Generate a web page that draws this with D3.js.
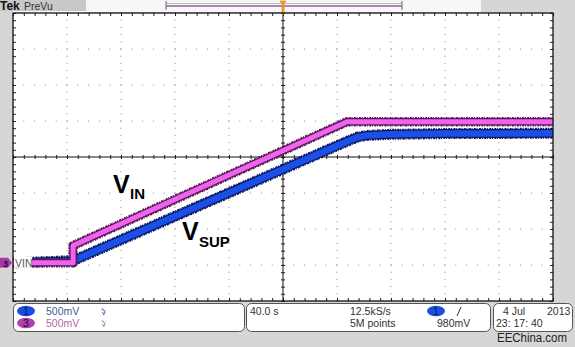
<!DOCTYPE html>
<html><head><meta charset="utf-8">
<script src="https://cdn.jsdelivr.net/npm/d3@7/dist/d3.min.js"></script>
<style>body{margin:0;background:#d6d6d6;} svg{display:block}</style>
</head><body><svg id="c" width="575" height="347"></svg>
<script>
const timeVIN  = [-200, -155.5, -155.5, 47.4, 200];          // s
const voltVIN  = [0, 0, 0.24, 1.96, 1.96];                    // V
const timeVSUP = [-200, -155.5, 49, 55, 62, 80, 120, 200];    // s
const voltVSUP = [0, 0.03, 1.70, 1.745, 1.77, 1.785, 1.795, 1.80];
const xDivisions = d3.range(0, 11);      // 10 horizontal divisions
const yDivisions = d3.range(0, 9);       // 8 vertical divisions
const chanNumbers = ["1", "3"];
const chanScales = ["500mV", "500mV"];
const timeBase = "40.0 s";
const sampleRate = "12.5kS/s";
const recordLength = "5M points";
const trigLevel = "980mV";
const dateText = ["4 Jul", "2013", "23: 17: 40"];
const traceLabels = [{main: "V", sub: "IN"}, {main: "V", sub: "SUP"}];

// ---------- layout ----------
const W = 575, H = 347;
const L = 13, R = 553, T = 13, B = 301;
const secPerDiv = 40, vPerDiv = 0.5, gndDiv = -2.94;
const svg = d3.select("#c");

const x = d3.scaleLinear().domain([-5 * secPerDiv, 5 * secPerDiv]).range([L, R]);
const y = d3.scaleLinear().domain([(-4 - gndDiv) * vPerDiv, (4 - gndDiv) * vPerDiv]).range([B, T]);
const xDiv = d3.scaleLinear().domain([0, 10]).range([L, R]);
const yDiv = d3.scaleLinear().domain([0, 8]).range([B, T]);
const minorX = d3.range(0, 50.5, 1).map(d => d / 5);
const minorY = d3.range(0, 40.5, 1).map(d => d / 5);

// ---------- background panels ----------
svg.append("rect").attr("x", 0).attr("y", 0).attr("width", W).attr("height", H).attr("fill", "#d6d6d6");
svg.append("rect").attr("x", 86).attr("y", 0).attr("width", 395).attr("height", 12).attr("fill", "#f7f7f7");
svg.append("rect").attr("x", 0).attr("y", 0).attr("width", 86).attr("height", 11).attr("fill", "#c8c8c8");
svg.append("rect").attr("x", L).attr("y", 11).attr("width", 73).attr("height", 2).attr("fill", "#f7f7f7");
svg.append("rect").attr("x", L).attr("y", T).attr("width", R - L).attr("height", B - T).attr("fill", "#ffffff");

// top header
svg.append("text").attr("x", 0).attr("y", 10).attr("font-family", "Liberation Sans, Arial, sans-serif")
  .attr("font-weight", "bold").attr("font-size", 12).attr("fill", "#111").text("Tek");
svg.append("text").attr("x", 24).attr("y", 10).attr("font-family", "Liberation Sans, Arial, sans-serif")
  .attr("font-size", 10.5).attr("fill", "#333").text("PreVu");
// record view bar
svg.append("line").attr("x1", 166).attr("x2", 402).attr("y1", 3.5).attr("y2", 3.5).attr("stroke", "#b8c4b8").attr("stroke-width", 1);
svg.append("line").attr("x1", 166).attr("x2", 402).attr("y1", 6).attr("y2", 6).attr("stroke", "#9a5aa6").attr("stroke-width", 1.5);
[166, 402].forEach(px => svg.append("line").attr("x1", px).attr("x2", px).attr("y1", 1).attr("y2", 10).attr("stroke", "#666").attr("stroke-width", 1));

// ---------- grid dots ----------
const grid = svg.append("g");
xDivisions.filter(d => d > 0 && d < 10 && d !== 5).forEach(d => {
  minorY.forEach(m => grid.append("rect").attr("x", xDiv(d) - 0.5).attr("y", yDiv(m) - 0.5)
    .attr("width", 1).attr("height", 1).attr("fill", "#8c8c8c"));
});
yDivisions.filter(d => d > 0 && d < 8 && d !== 4).forEach(d => {
  minorX.forEach(m => grid.append("rect").attr("x", xDiv(m) - 0.5).attr("y", yDiv(d) - 0.5)
    .attr("width", 1).attr("height", 1).attr("fill", "#8c8c8c"));
});

// border ticks via axes
const tickStyle = g => { g.select(".domain").remove(); g.selectAll("line").attr("stroke", "#222"); g.selectAll("text").remove(); };
svg.append("g").attr("transform", `translate(0,${T})`).call(d3.axisBottom(xDiv).tickValues(minorX).tickSize(3).tickFormat("")).call(tickStyle);
svg.append("g").attr("transform", `translate(0,${B})`).call(d3.axisTop(xDiv).tickValues(minorX).tickSize(3).tickFormat("")).call(tickStyle);
svg.append("g").attr("transform", `translate(${L},0)`).call(d3.axisRight(yDiv).tickValues(minorY).tickSize(3).tickFormat("")).call(tickStyle);
svg.append("g").attr("transform", `translate(${R},0)`).call(d3.axisLeft(yDiv).tickValues(minorY).tickSize(3).tickFormat("")).call(tickStyle);
// center crosshair with ticks
svg.append("g").attr("transform", `translate(0,${yDiv(4) + 2})`).call(d3.axisTop(xDiv).tickValues(minorX).tickSize(4).tickFormat("")).call(tickStyle);
svg.append("g").attr("transform", `translate(${xDiv(5) - 2},0)`).call(d3.axisRight(yDiv).tickValues(minorY).tickSize(4).tickFormat("")).call(tickStyle);
svg.append("line").attr("x1", L).attr("x2", R).attr("y1", yDiv(4)).attr("y2", yDiv(4)).attr("stroke", "#111").attr("stroke-width", 1);
svg.append("line").attr("x1", xDiv(5)).attr("x2", xDiv(5)).attr("y1", T).attr("y2", B).attr("stroke", "#111").attr("stroke-width", 1);

// ---------- traces ----------
const line = d3.line().x(d => x(d.t)).y(d => y(d.v));
const vin = timeVIN.map((t, i) => ({t, v: voltVIN[i]}));
const vsup = timeVSUP.map((t, i) => ({t, v: voltVSUP[i]}));
svg.append("clipPath").attr("id", "pc").append("rect").attr("x", L).attr("y", T).attr("width", R - L).attr("height", B - T);
const tr = svg.append("g").attr("clip-path", "url(#pc)");
function band(data, dark, bright, w) {
  tr.append("path").attr("d", line(data)).attr("fill", "none").attr("stroke", dark).attr("stroke-width", w + 3).attr("stroke-dasharray", "1 1.3 2 0.8").attr("stroke-linejoin", "round");
  tr.append("path").attr("d", line(data)).attr("fill", "none").attr("stroke", dark).attr("stroke-width", w + 1).attr("stroke-linejoin", "round");
  tr.append("path").attr("d", line(data)).attr("fill", "none").attr("stroke", bright).attr("stroke-width", w - 1.5).attr("stroke-linejoin", "round");
}
band(vsup, "#0a1866", "#1c4fe6", 8);
band(vin, "#5a1656", "#ee64ee", 6.5);

// trace labels
const lf = "Liberation Sans, Arial, sans-serif";
svg.append("text").attr("x", 113).attr("y", 193).attr("font-family", lf).attr("font-weight", "bold").attr("font-size", 25).attr("fill", "#000").text(traceLabels[0].main);
svg.append("text").attr("x", 130).attr("y", 199).attr("font-family", lf).attr("font-weight", "bold").attr("font-size", 15).attr("fill", "#000").text(traceLabels[0].sub);
svg.append("text").attr("x", 182).attr("y", 240).attr("font-family", lf).attr("font-weight", "bold").attr("font-size", 25).attr("fill", "#000").text(traceLabels[1].main);
svg.append("text").attr("x", 199).attr("y", 247).attr("font-family", lf).attr("font-weight", "bold").attr("font-size", 15).attr("fill", "#000").text(traceLabels[1].sub);

// channel 3 ground marker
const gy = y(0);
svg.append("rect").attr("x", 14).attr("y", gy - 6).attr("width", 18).attr("height", 11).attr("fill", "#fff");
svg.append("path").attr("d", `M0,${gy - 5}H8L12,${gy}L8,${gy + 5}H0Z`).attr("fill", "#a83aa8");
svg.append("text").attr("x", 3).attr("y", gy + 4).attr("font-family", lf).attr("font-weight", "bold").attr("font-size", 9).attr("fill", "#2a0a2a").text(chanNumbers[1]);
svg.append("text").attr("x", 15).attr("y", gy + 4).attr("font-family", lf).attr("font-size", 10.5).attr("fill", "#555").text("VIN");

// trigger position marker
svg.append("path").attr("d", "M280,1H286L284,4V13Q283,16 282,13V4Z").attr("fill", "#f0a030").attr("stroke", "#e09020").attr("stroke-width", 0.8);

// plot border
svg.append("rect").attr("x", L).attr("y", T).attr("width", R - L).attr("height", B - T).attr("fill", "none").attr("stroke", "#111").attr("stroke-width", 1.3);

// ---------- bottom info boxes ----------
const boxes = [[13, 244], [246, 490], [493, 572]];
boxes.forEach(([a, b]) => svg.append("rect").attr("x", a + 0.5).attr("y", 303.5).attr("width", b - a).attr("height", 28).attr("rx", 5).attr("fill", "#fff").attr("stroke", "#555").attr("stroke-width", 1));
const tf = "Liberation Sans, Arial, sans-serif";
function oval(cx, cy, fill, label, col) {
  svg.append("ellipse").attr("cx", cx).attr("cy", cy).attr("rx", 9).attr("ry", 5.3).attr("fill", fill);
  svg.append("text").attr("x", cx).attr("y", cy + 3.8).attr("text-anchor", "middle").attr("font-family", tf).attr("font-size", 10.5).attr("fill", col).text(label);
}
oval(26, 311, "#1a4fe0", chanNumbers[0], "#0a1a50");
oval(26, 323, "#b040b0", chanNumbers[1], "#2a0a2a");
const chanCols = ["#4a5a98", "#b06ab0"];
[0, 1].forEach(i => {
  const oy = i * 12;
  svg.append("text").attr("x", 46).attr("y", 315 + oy).attr("font-family", tf).attr("font-size", 10.5).attr("fill", chanCols[i]).text(chanScales[i]);
  // bandwidth-limit glyph
  svg.append("path").attr("d", `M101.5,${310 + oy}q1,-3 2,0t2,0M102.5,${312 + oy}l1.2,3l1.2,-3`)
    .attr("fill", "none").attr("stroke", chanCols[i]).attr("stroke-width", 0.9);
});
svg.append("text").attr("x", 250).attr("y", 315).attr("font-family", tf).attr("font-size", 10.5).attr("fill", "#333").text(timeBase);
svg.append("text").attr("x", 350).attr("y", 315).attr("font-family", tf).attr("font-size", 10.5).attr("fill", "#333").text(sampleRate);
svg.append("text").attr("x", 350).attr("y", 327).attr("font-family", tf).attr("font-size", 10.5).attr("fill", "#333").text(recordLength);
oval(436, 311, "#1a4fe0", chanNumbers[0], "#0a1a50");
svg.append("line").attr("x1", 457).attr("x2", 461).attr("y1", 316).attr("y2", 307).attr("stroke", "#333").attr("stroke-width", 1);
svg.append("text").attr("x", 437).attr("y", 327).attr("font-family", tf).attr("font-size", 10.5).attr("fill", "#333").text(trigLevel);
svg.append("text").attr("x", 503).attr("y", 315).attr("font-family", tf).attr("font-size", 10.5).attr("fill", "#333").text(dateText[0]);
svg.append("text").attr("x", 547).attr("y", 315).attr("font-family", tf).attr("font-size", 10.5).attr("fill", "#333").text(dateText[1]);
svg.append("text").attr("x", 496).attr("y", 327).attr("font-family", tf).attr("font-size", 10.5).attr("fill", "#333").text(dateText[2]);
svg.append("text").attr("x", 497).attr("y", 342).attr("font-family", tf).attr("font-size", 12.5)
  .attr("textLength", 70).attr("lengthAdjust", "spacingAndGlyphs").attr("fill", "#222").text("EEChina.com");
</script></body></html>
